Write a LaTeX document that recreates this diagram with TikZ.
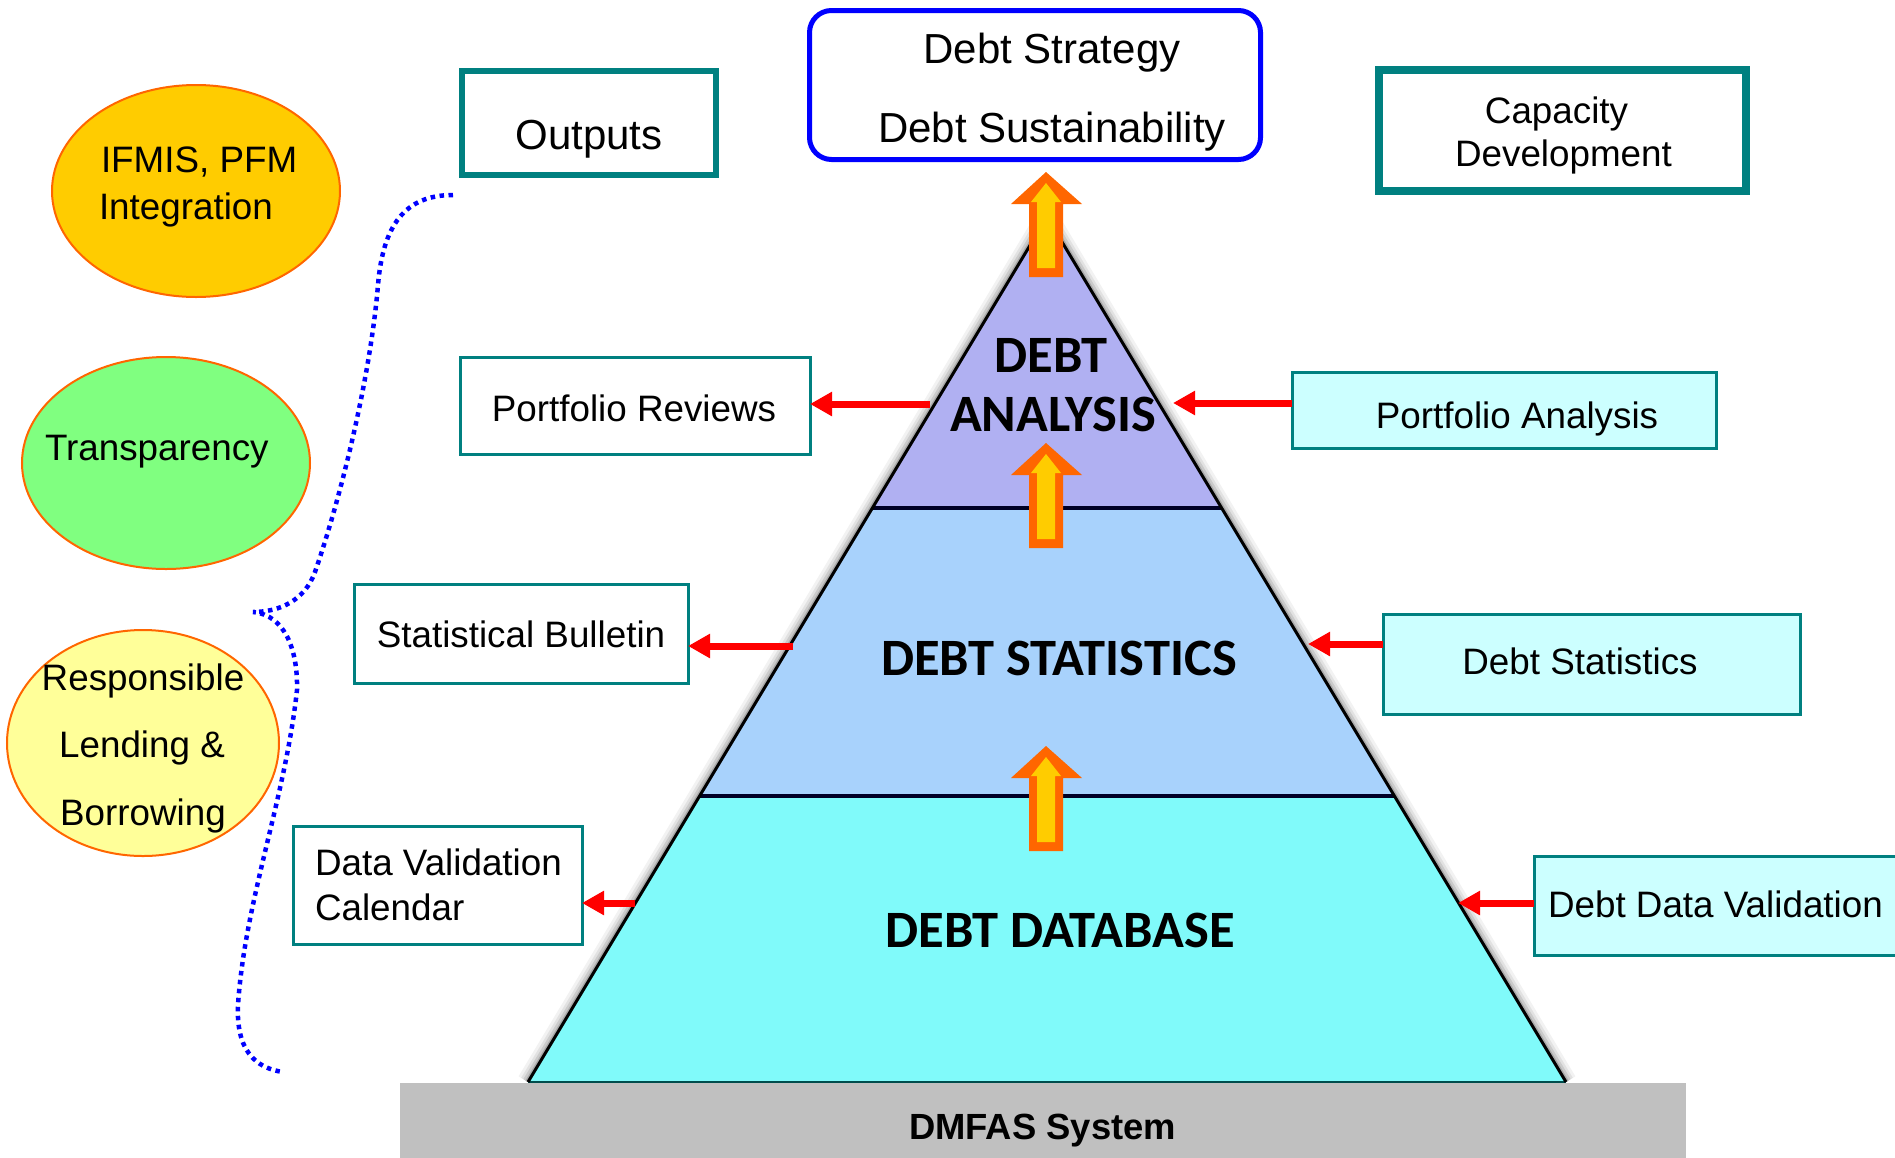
\documentclass[tikz,border=0pt]{standalone}
\usepackage{fontspec}
\setmainfont{Liberation Sans}
\newfontfamily\calib{Carlito}
\usetikzlibrary{shapes.geometric,arrows.meta}
\definecolor{tealc}{RGB}{0,128,128}
\definecolor{boxfill}{RGB}{204,255,255}
\definecolor{barfill}{RGB}{192,192,192}
\definecolor{orangec}{RGB}{255,102,0}
\definecolor{yellowc}{RGB}{255,204,0}
\definecolor{greenc}{RGB}{128,255,128}
\definecolor{paleyel}{RGB}{255,255,153}
\definecolor{lavc}{RGB}{176,176,242}
\definecolor{lblue}{RGB}{168,210,252}
\definecolor{cyanc}{RGB}{128,250,250}
\definecolor{bluec}{RGB}{0,0,255}
\begin{document}
\begin{tikzpicture}[x=1pt,y=-1pt,
  every node/.style={inner sep=0pt,outer sep=0pt},
  txt/.style={font=\fontsize{36.8}{44}\selectfont,anchor=base},
  txtw/.style={font=\fontsize{36.8}{44}\selectfont,anchor=base west},
  bigtxt/.style={font=\fontsize{42}{50}\selectfont,anchor=base},
  pyrtxt/.style={font=\calib\bfseries\fontsize{52.5}{60}\selectfont,anchor=base},
  lbox/.style={draw=tealc,line width=3pt,fill=white,rectangle},
  rbox/.style={draw=tealc,line width=3pt,fill=boxfill,rectangle},
  oval/.style={ellipse,draw=orangec,line width=2pt},
  redarr/.style={draw=red,line width=7pt,-{Triangle[length=22pt,width=23pt]}},
  brace/.style={draw=bluec,line width=4.5pt,dash pattern=on 4.5pt off 4.5pt},
]
\useasboundingbox (0,0) rectangle (1895,1157);
\clip (0,0) rectangle (1895,1157);

% ---------- pyramid ----------
\coordinate (apex) at (1047,217);
\coordinate (l1) at (872,508);  \coordinate (r1) at (1222,508);
\coordinate (l2) at (700,796);  \coordinate (r2) at (1394,796);
\coordinate (l3) at (528,1082); \coordinate (r3) at (1566,1082);
\foreach \w/\o in {22/0.05,16/0.07,11/0.1,6/0.16}
  \draw[black,opacity=\o,line width=\w pt,line join=round] (l3) -- (apex) -- (r3);
\fill[lavc] (apex) -- (r1) -- (l1) -- cycle;
\fill[lblue] (l1) -- (r1) -- (r2) -- (l2) -- cycle;
\fill[cyanc] (l2) -- (r2) -- (r3) -- (l3) -- cycle;
\draw[black!85!blue,line width=4pt] (l1) -- (r1);
\draw[black!85!blue,line width=4pt] (l2) -- (r2);
\draw[tealc!60!black,line width=2pt] (l3) -- (r3);
\draw[black,line width=3pt,line join=miter] (l3) -- (apex) -- (r3);

% ---------- DMFAS bar ----------
\node[rectangle,fill=barfill,minimum width=1286pt,minimum height=76pt] (bar) at (1043,1121) {};
\node[font=\bfseries\fontsize{36.4}{44}\selectfont,anchor=base] (dmfas) at (1042.5,1139) {DMFAS System};

% ---------- pyramid labels ----------
\node[pyrtxt] (pa1) at (1051,372) {DEBT};
\node[pyrtxt] (pa2) at (1053,431) {ANALYSIS};
\node[pyrtxt] (pst) at (1059,675) {DEBT STATISTICS};
\node[pyrtxt] (pdb) at (1060,947) {DEBT DATABASE};

% ---------- orange block arrows ----------
\foreach \T in {172,443,746}{
  \fill[orangec] (1046,\T) -- (1082,\T+32) -- (1063,\T+32) -- (1063,\T+105)
      -- (1029,\T+105) -- (1029,\T+32) -- (1011,\T+32) -- cycle;
  \fill[yellowc] (1046,\T+11) -- (1061,\T+30) -- (1055,\T+30) -- (1055,\T+96)
      -- (1037,\T+96) -- (1037,\T+30) -- (1031,\T+30) -- cycle;
}

% ---------- top boxes ----------
\node[rectangle,draw=bluec,line width=5pt,rounded corners=22pt,fill=white,
      minimum width=451pt,minimum height=149pt] (top) at (1035,85) {};
\node[bigtxt] (ds1) at (1052,63) {Debt Strategy};
\node[bigtxt] (ds2) at (1052,142) {Debt Sustainability};

\node[lbox,line width=6pt,minimum width=254pt,minimum height=104pt] (outputs) at (589,123) {};
\node[bigtxt] (outtxt) at (589,149) {Outputs};

\node[lbox,line width=8pt,minimum width=367pt,minimum height=121pt] (capbox) at (1562.5,130.5) {};
\node[txt] (cap1) at (1556.5,123) {Capacity};
\node[txt] (cap2) at (1563.5,166) {Development};

% ---------- left boxes ----------
\node[lbox,minimum width=350pt,minimum height=97pt] (prbox) at (635,406) {};
\node[txt] (prtxt) at (634,421) {Portfolio Reviews};
\node[lbox,minimum width=334pt,minimum height=99pt] (sbbox) at (521,633.5) {};
\node[txt] (sbtxt) at (521,647) {Statistical Bulletin};
\node[lbox,minimum width=289pt,minimum height=118pt] (dvbox) at (437.5,885) {};
\node[txtw] (dv1) at (315,875) {Data Validation};
\node[txtw] (dv2) at (315,920) {Calendar};

% ---------- right boxes ----------
\node[rbox,minimum width=424pt,minimum height=76pt] (pabox) at (1504,410) {};
\node[txt] (patxt) at (1517,428) {Portfolio Analysis};
\node[rbox,minimum width=417pt,minimum height=100pt] (dsbox) at (1591.5,664) {};
\node[txt] (dstxt) at (1580,674) {Debt Statistics};
\node[rbox,minimum width=380pt,minimum height=99pt] (ddvbox) at (1724,906) {};
\node[txtw] (ddvtxt) at (1548,917) {Debt Data Validation};

% ---------- red arrows ----------
\coordinate (prs) at (930,404);
\coordinate (sbs) at (793,646);
\coordinate (dvs) at (635,903);
\coordinate (pat) at (1173,403);
\coordinate (dst) at (1308,644);
\coordinate (ddvt) at (1458,903);
\draw[redarr] (prs) -- (prs -| prbox.east);
\draw[redarr] (sbs) -- (sbs -| sbbox.east);
\draw[redarr] (dvs) -- (dvs -| dvbox.east);
\draw[redarr] (pat -| pabox.west) -- (pat);
\draw[redarr] (dst -| dsbox.west) -- (dst);
\draw[redarr] (ddvt -| ddvbox.west) -- (ddvt);

% ---------- ellipses ----------
\node[oval,fill=yellowc,minimum width=288pt,minimum height=212pt] (ifmis) at (196,191) {};
\node[txtw] (if1) at (101,172) {IFMIS, PFM};
\node[txtw] (if2) at (99,219) {Integration};
\node[oval,fill=greenc,minimum width=288pt,minimum height=212pt] (transp) at (166,463) {};
\node[txtw] (tr1) at (45,460) {Transparency};
\node[oval,fill=paleyel,minimum width=272pt,minimum height=226pt] (resp) at (143,743) {};
\node[txt] (re1) at (143,690) {Responsible};
\node[txt] (re2) at (142,757) {Lending \&};
\node[txt] (re3) at (143,825) {Borrowing};

% ---------- blue dotted brace ----------
\coordinate (btop) at (453,195);
\coordinate (btip) at (253,612);
\coordinate (bbot) at (283,1072);
\draw[brace] (btop) .. controls (405,195) and (383,225) .. (378,285)
  .. controls (370,380) and (340,500) .. (315,572)
  .. controls (305,600) and (280,612) .. (btip)
  .. controls (285,615) and (298,650) .. (297,690)
  .. controls (285,800) and (245,900) .. (238,1005)
  .. controls (236,1050) and (255,1068) .. (bbot);
\end{tikzpicture}
\end{document}
